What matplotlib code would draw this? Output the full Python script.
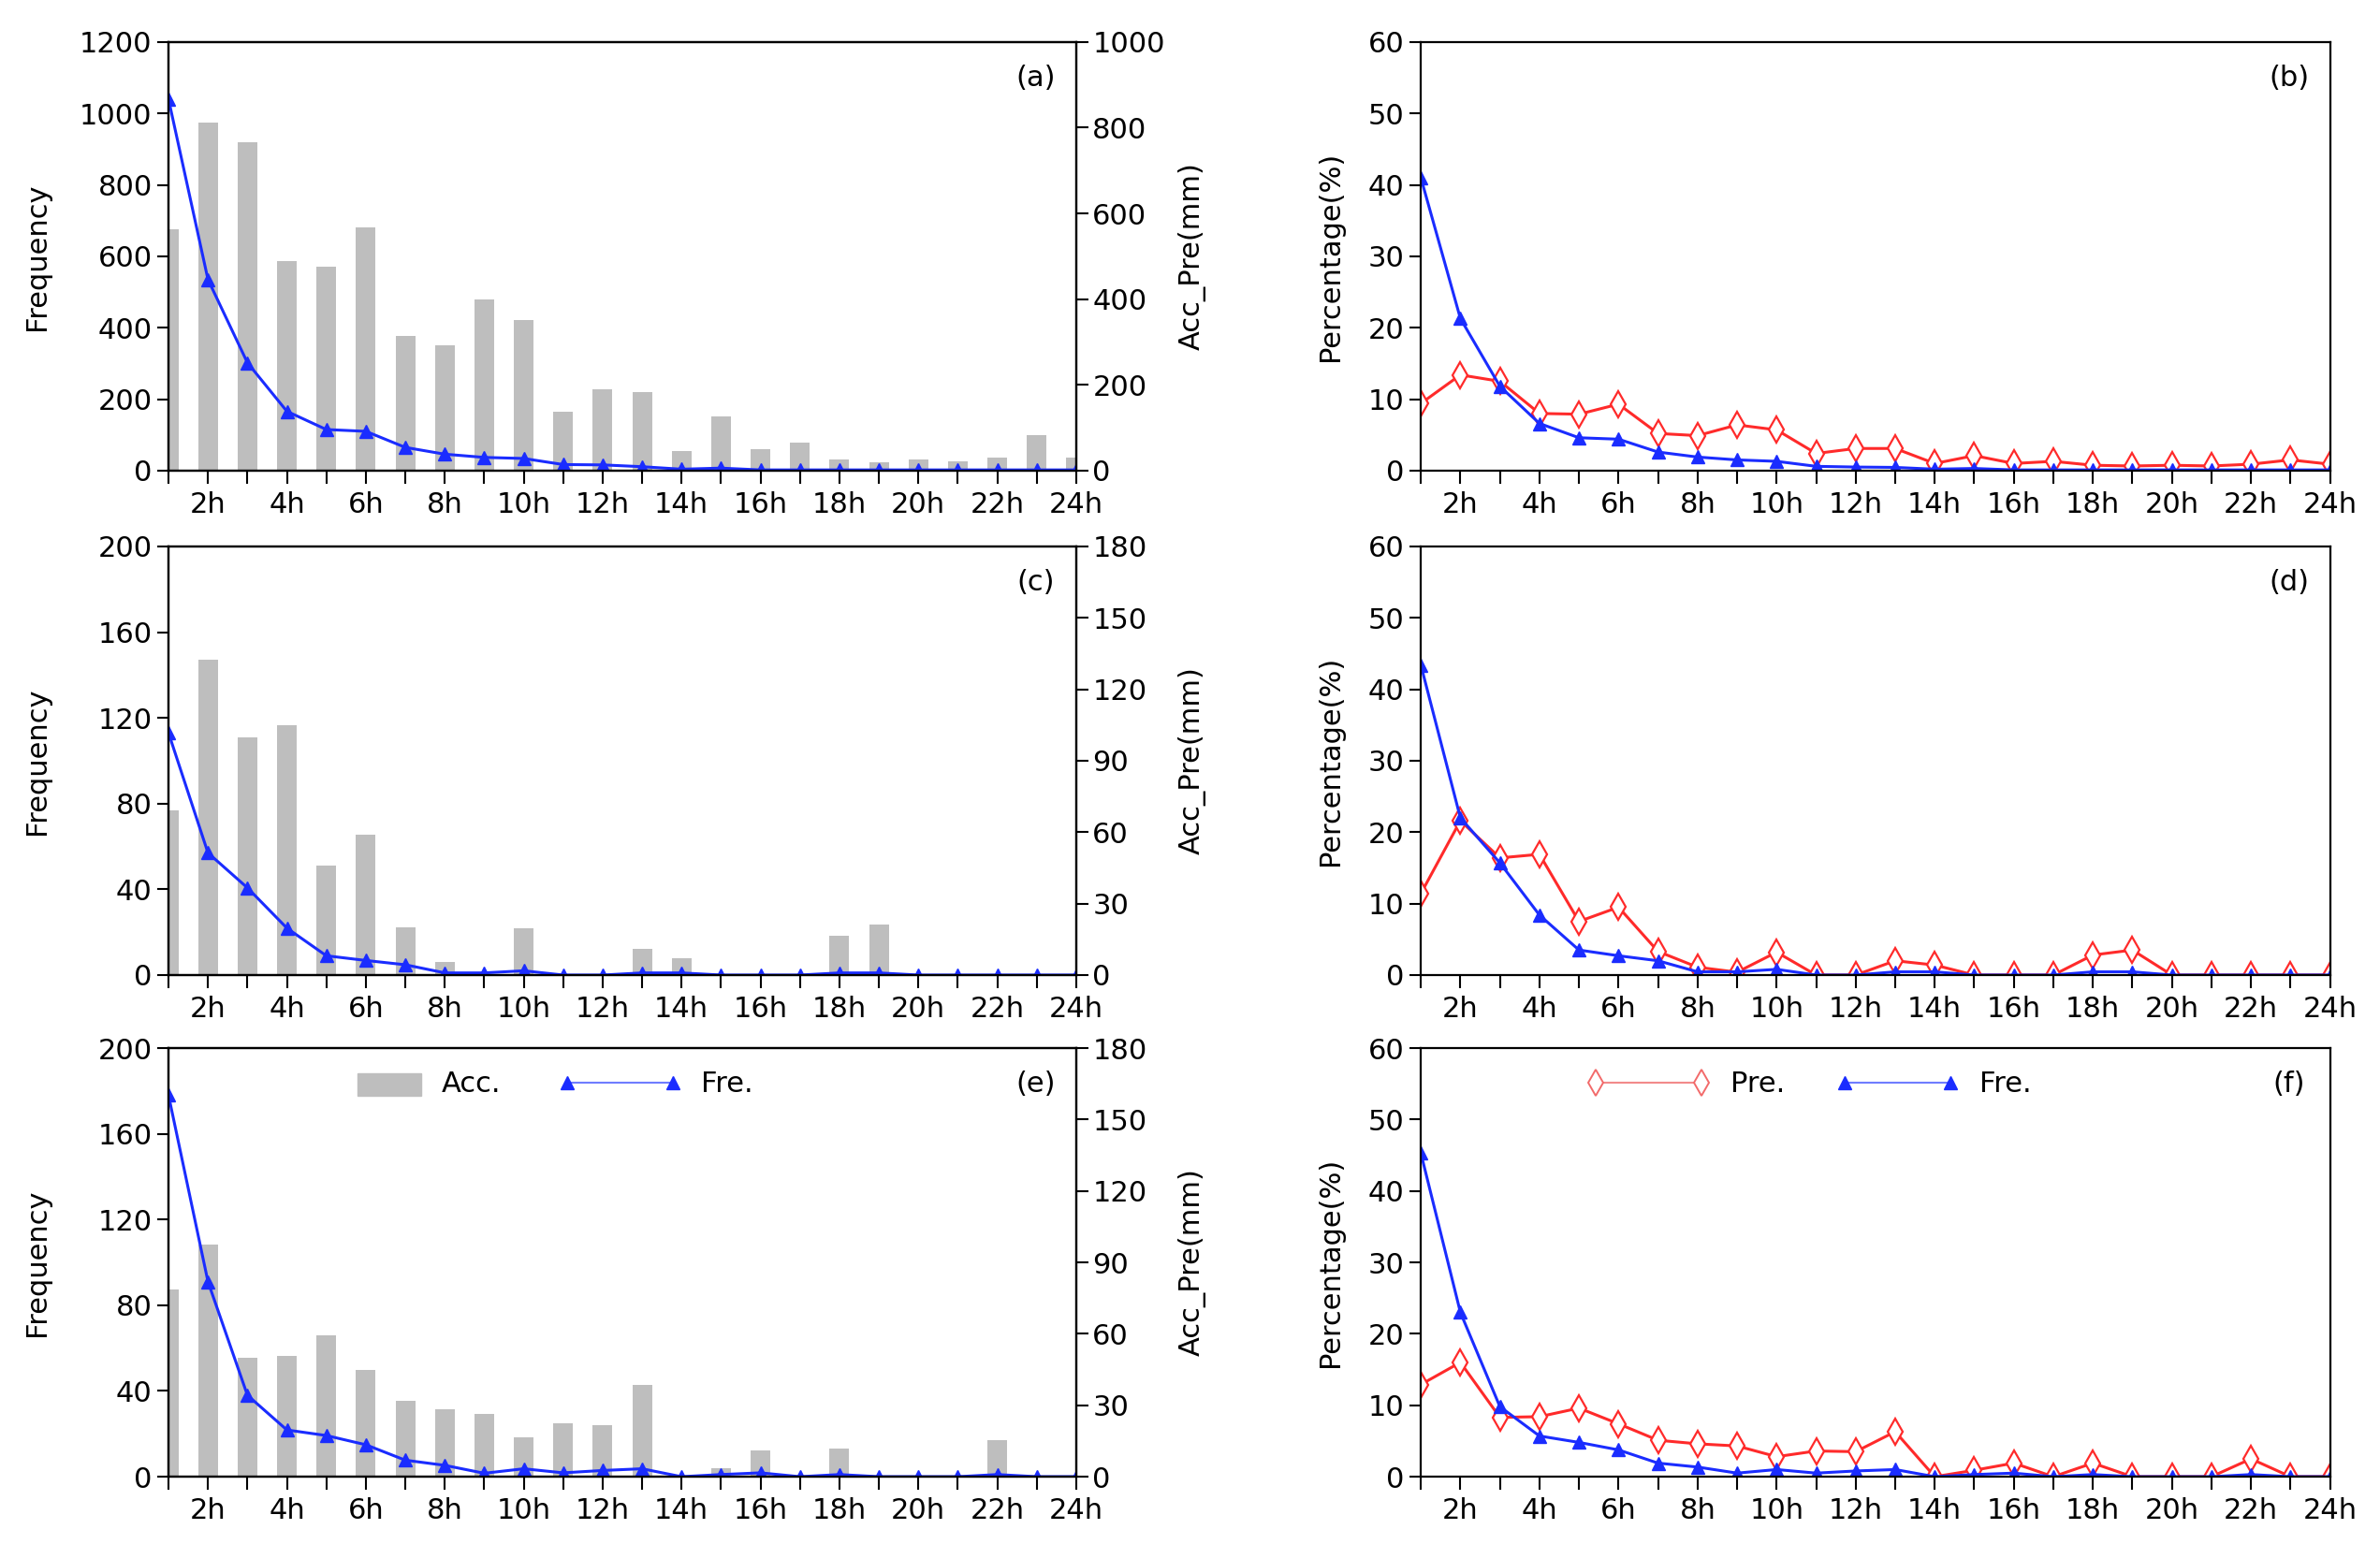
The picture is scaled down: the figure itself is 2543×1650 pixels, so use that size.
import matplotlib
matplotlib.use('Agg')
import matplotlib.pyplot as plt
import matplotlib.patches as mpatches
from matplotlib.lines import Line2D
from matplotlib.legend_handler import HandlerPatch

hours = list(range(1, 25))
hour_labels = [('%dh' % h) if h % 2 == 0 else '' for h in hours]

# (a)/(b)
acc_a = [563, 812, 767, 488, 476, 567, 315, 293, 400, 352, 138, 189, 184, 45, 127, 49, 66, 26, 20, 26, 21, 31, 83, 31]
fre_a = [1040, 535, 302, 166, 115, 110, 65, 46, 37, 34, 17, 16, 11, 4, 7, 2, 2, 2, 2, 2, 2, 2, 2, 2]
pre_b = [9.4, 13.4, 12.5, 8.0, 7.9, 9.3, 5.2, 4.9, 6.4, 5.7, 2.4, 3.1, 3.1, 1.0, 2.1, 1.0, 1.3, 0.75, 0.65, 0.75, 0.65, 0.9, 1.5, 0.9]
frp_b = [41, 21.3, 11.8, 6.6, 4.6, 4.4, 2.6, 1.9, 1.5, 1.3, 0.6, 0.5, 0.45, 0.2, 0.3, 0.1, 0.1, 0.1, 0.1, 0.1, 0.1, 0.1, 0.1, 0.1]

# (c)/(d)
acc_c = [69.3, 132.5, 99.8, 105, 46, 59, 20, 5.4, 0, 19.7, 0, 0, 11.1, 7, 0, 0, 0, 16.6, 21.2, 0, 0, 0, 0, 0]
fre_c = [113, 57, 40.7, 21.9, 9, 6.8, 4.8, 1, 1, 2, 0, 0, 1, 1, 0, 0, 0, 1, 1, 0, 0, 0, 0, 0]
pre_d = [11.4, 21.6, 16.4, 16.9, 7.5, 9.5, 3.3, 1.1, 0.4, 3.2, 0, 0, 2.0, 1.4, 0, 0, 0, 2.8, 3.5, 0, 0, 0, 0, 0]
frp_d = [43.4, 22, 15.7, 8.4, 3.5, 2.7, 2.0, 0.45, 0.45, 0.8, 0, 0, 0.45, 0.45, 0, 0, 0, 0.45, 0.45, 0, 0, 0, 0, 0]

# (e)/(f)
acc_e = [78.5, 97.3, 50, 50.8, 59.2, 45, 31.7, 28.2, 26.4, 16.4, 22.5, 21.7, 38.6, 0, 3.6, 11, 0, 11.7, 0, 0, 0, 15.3, 0, 0]
fre_e = [178, 91, 38, 21.8, 19.2, 14.9, 7.7, 5.3, 1.6, 3.7, 1.8, 2.9, 3.7, 0, 1, 1.8, 0, 1, 0, 0, 0, 1, 0, 0]
pre_f = [12.9, 16, 8.3, 8.4, 9.6, 7.4, 5.1, 4.6, 4.3, 2.8, 3.6, 3.5, 6.3, 0, 0.9, 1.9, 0, 1.9, 0, 0, 0, 2.5, 0, 0]
frp_f = [45.3, 23, 9.8, 5.7, 4.8, 3.75, 1.9, 1.35, 0.5, 1.0, 0.5, 0.8, 1.0, 0, 0.3, 0.5, 0, 0.3, 0, 0, 0, 0.3, 0, 0]

BLUE = '#1a2cff'
RED = '#ff2a2a'
GRAY = '#bebebe'
TICK_FS = 22
LAB_FS = 22

plt.rcParams['font.family'] = ['DejaVu Sans']

fig = plt.figure(figsize=(25.43, 16.5), dpi=100)

rows = [0.6952, 0.3685, 0.0436]
h = 0.2776
left_x, left_w = 0.0708, 0.3814
right_x, right_w = 0.597, 0.382


def style_x(ax):
    ax.set_xlim(1, 24)
    ax.set_xticks(hours)
    ax.set_xticklabels(hour_labels)
    ax.tick_params(axis='x', direction='out', length=10, width=1.5, labelsize=TICK_FS, pad=6)
    for s in ax.spines.values():
        s.set_linewidth(1.6)


def right_rect(legend, orig_handle, xdescent, ydescent, width, height, fontsize):
    w = width * 0.52
    return mpatches.Rectangle((-xdescent + width - w, -ydescent - height * 0.15), w, height * 1.1)


def left_panel(bottom, acc, fre, ymax1, step1, ymax2, step2, tag, legend=False):
    ax = fig.add_axes([left_x, bottom, left_w, h])
    ax2 = ax.twinx()
    ax2.bar(hours, acc, width=0.5, color=GRAY, zorder=1)
    ax2.set_ylim(0, ymax2)
    ax2.set_yticks(range(0, ymax2 + 1, step2))
    ax2.tick_params(axis='y', direction='out', length=9, width=1.5, labelsize=TICK_FS)
    ax2.set_ylabel('Acc_Pre(mm)', fontsize=LAB_FS)
    ax2.yaxis.set_label_coords(1.112, 0.5)
    ax.set_zorder(ax2.get_zorder() + 1)
    ax.patch.set_visible(False)
    ax.plot(hours, fre, color=BLUE, lw=2.2, marker='^', ms=10, mfc=BLUE, mec=BLUE)
    ax.set_ylim(0, ymax1)
    ax.set_yticks(range(0, ymax1 + 1, step1))
    ax.tick_params(axis='y', direction='out', length=9, width=1.5, labelsize=TICK_FS)
    ax.set_ylabel('Frequency', fontsize=LAB_FS)
    ax.yaxis.set_label_coords(-0.13, 0.5)
    style_x(ax)
    for s in ax2.spines.values():
        s.set_linewidth(1.6)
    ax.text(0.955, 0.915, tag, transform=ax.transAxes, fontsize=TICK_FS, ha='center', va='center')
    if legend:
        hb = mpatches.Patch(color=GRAY)
        hl = Line2D([], [], color='#6f7dff', lw=1.5, marker='^', ms=10, mfc=BLUE, mec=BLUE)
        ax.legend([hb, hl], ['Acc.', 'Fre.'], loc='center left', bbox_to_anchor=(0.115, 0.915),
                  ncol=2, frameon=False, fontsize=TICK_FS, handlelength=4.3, numpoints=2,
                  handletextpad=0.7, columnspacing=2.0,
                  handler_map={mpatches.Patch: HandlerPatch(patch_func=right_rect)})
    return ax


def right_panel(bottom, pre, frp, tag, legend=False):
    ax = fig.add_axes([right_x, bottom, right_w, h])
    ax.plot(hours, pre, color=RED, lw=2.2, marker='d', ms=14, mfc='white', mec=RED, mew=1.6)
    ax.plot(hours, frp, color=BLUE, lw=2.2, marker='^', ms=10, mfc=BLUE, mec=BLUE)
    ax.set_ylim(0, 60)
    ax.set_yticks(range(0, 61, 10))
    ax.tick_params(axis='y', direction='out', length=9, width=1.5, labelsize=TICK_FS)
    ax.set_ylabel('Percentage(%)', fontsize=LAB_FS)
    ax.yaxis.set_label_coords(-0.085, 0.5)
    style_x(ax)
    ax.text(0.955, 0.915, tag, transform=ax.transAxes, fontsize=TICK_FS, ha='center', va='center')
    if legend:
        hp = Line2D([], [], color='#f28a8a', lw=1.5, marker='d', ms=14, mfc='white', mec='#f26a6a', mew=1.4)
        hf = Line2D([], [], color='#6f7dff', lw=1.5, marker='^', ms=10, mfc=BLUE, mec=BLUE)
        ax.legend([hp, hf], ['Pre.', 'Fre.'], loc='center left', bbox_to_anchor=(0.155, 0.915),
                  ncol=2, frameon=False, fontsize=TICK_FS, handlelength=4.3, numpoints=2,
                  handletextpad=0.7, columnspacing=1.8)
    return ax


left_panel(rows[0], acc_a, fre_a, 1200, 200, 1000, 200, '(a)')
right_panel(rows[0], pre_b, frp_b, '(b)')
left_panel(rows[1], acc_c, fre_c, 200, 40, 180, 30, '(c)')
right_panel(rows[1], pre_d, frp_d, '(d)')
left_panel(rows[2], acc_e, fre_e, 200, 40, 180, 30, '(e)', legend=True)
right_panel(rows[2], pre_f, frp_f, '(f)', legend=True)

fig.savefig('out.png', dpi=100)
